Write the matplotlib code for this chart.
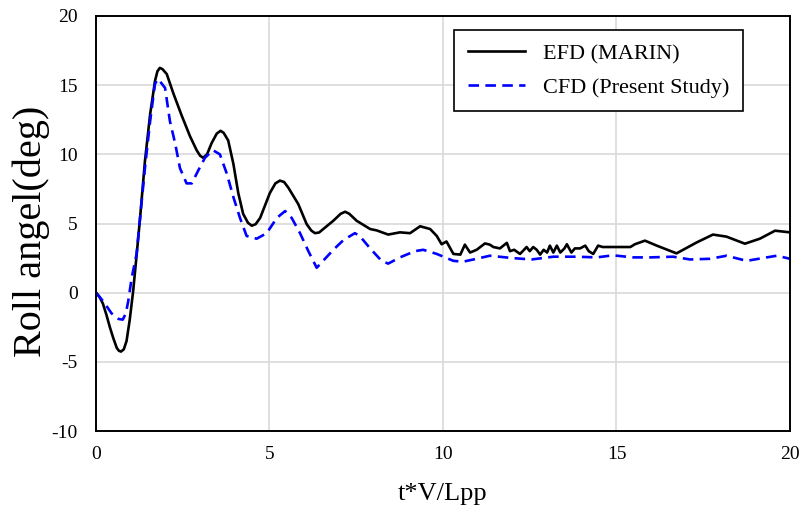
import matplotlib
matplotlib.use("Agg")
import matplotlib.pyplot as plt

plt.rcParams['font.family'] = ['Liberation Serif', 'DejaVu Serif']
plt.rcParams['axes.unicode_minus'] = False

# EFD (MARIN) roll angle
efd_x = [0, 0.1, 0.2, 0.3, 0.4, 0.5, 0.6, 0.66, 0.72, 0.8, 0.88, 0.97, 1.07,
         1.17, 1.27, 1.41, 1.56, 1.70, 1.77, 1.84, 1.92,
         2.04, 2.23, 2.47, 2.71, 2.9, 3.0, 3.09, 3.2, 3.33, 3.48, 3.59, 3.68,
         3.81, 3.96, 4.1, 4.24, 4.38, 4.49, 4.6, 4.73, 5.01, 5.17, 5.30, 5.42,
         5.54, 5.83, 6.07, 6.2, 6.31, 6.43, 6.55, 6.84, 7.05, 7.18, 7.3, 7.51,
         7.9, 8.09, 8.42, 8.76, 9.05, 9.34, 9.63, 9.82, 9.96, 10.1, 10.3, 10.5,
         10.63, 10.78, 10.97, 11.21, 11.35, 11.45, 11.64, 11.84, 11.93, 12.05,
         12.22, 12.41, 12.5, 12.6, 12.7, 12.8, 12.9, 13.0, 13.08, 13.18, 13.28,
         13.38, 13.5, 13.57, 13.7, 13.8, 13.95, 14.1, 14.2, 14.33, 14.47, 14.6,
         14.9, 15.2, 15.4, 15.53, 15.82, 16.16, 16.73, 17.31, 17.78, 18.17,
         18.7, 19.13, 19.57, 20.0]
efd_y = [0, -0.3, -0.8, -1.6, -2.5, -3.3, -4.0, -4.2, -4.26, -4.1, -3.5, -2.0, 0.1,
         2.7, 5.4, 9.5, 12.9, 15.3, 16.0, 16.25, 16.15,
         15.8, 14.4, 12.8, 11.3, 10.3, 9.9, 9.75, 10.0, 10.8, 11.5, 11.7, 11.55,
         11.0, 9.3, 7.2, 5.7, 5.05, 4.84, 4.95, 5.4, 7.2, 7.9, 8.1, 8.0,
         7.6, 6.4, 4.96, 4.5, 4.3, 4.35, 4.6, 5.2, 5.7, 5.85, 5.7, 5.2,
         4.6, 4.5, 4.2, 4.36, 4.3, 4.8, 4.6, 4.1, 3.5, 3.7, 2.8, 2.75,
         3.47, 2.9, 3.1, 3.56, 3.47, 3.3, 3.2, 3.6, 3.0, 3.1,
         2.8, 3.3, 3.0, 3.3, 3.1, 2.75, 3.1, 2.9, 3.4, 2.9, 3.4,
         2.9, 3.2, 3.5, 2.9, 3.2, 3.2, 3.4, 3.0, 2.8, 3.4, 3.3,
         3.3, 3.3, 3.3, 3.5, 3.76, 3.4, 2.84, 3.63, 4.2, 4.05,
         3.54, 3.9, 4.48, 4.36]

# CFD (Present Study) roll angle
cfd_x = [0, 0.2, 0.45, 0.65, 0.77, 0.86, 0.93, 1.03, 1.17, 1.27, 1.41, 1.56,
         1.70, 1.79, 1.99, 2.13, 2.28, 2.42, 2.61, 2.76, 2.94, 3.14, 3.37, 3.57,
         3.77, 3.96, 4.15, 4.34, 4.63, 4.92, 5.21, 5.45, 5.64, 5.88, 6.12, 6.36,
         6.6, 6.84, 7.13, 7.46, 7.6, 7.9, 8.23, 8.42, 8.76, 9.19, 9.43, 9.82,
         10.3, 10.58, 10.97, 11.35, 12.0, 12.55, 13.18, 13.85, 14.43, 14.9,
         15.48, 15.97, 16.63, 17.12, 17.7, 18.17, 18.75, 19.33, 19.62, 20.0]
cfd_y = [0, -0.6, -1.5, -1.9, -1.95, -1.5, -0.6, 1.1, 2.8, 5.4, 9.0, 12.4,
         15.1, 15.45, 14.8, 12.4, 10.8, 9.0, 7.9, 7.9, 8.8, 9.75, 10.3, 10.0,
         8.6, 6.9, 5.4, 4.1, 3.9, 4.3, 5.4, 5.9, 5.4, 4.3, 3.0, 1.8,
         2.45, 3.1, 3.8, 4.3, 4.1, 3.2, 2.3, 2.1, 2.55, 3.0, 3.1, 2.8,
         2.3, 2.24, 2.45, 2.67, 2.5, 2.4, 2.6, 2.6, 2.55, 2.7,
         2.55, 2.55, 2.6, 2.4, 2.45, 2.67, 2.3, 2.55, 2.67, 2.45]

xticks = [0, 5, 10, 15, 20]
yticks = [-10, -5, 0, 5, 10, 15, 20]

fig = plt.figure(figsize=(8.04, 5.09), dpi=100)
ax = fig.add_axes([96 / 804, 1 - 431 / 509, 694 / 804, 415 / 509])

ax.plot(efd_x, efd_y, color='black', lw=1.9, label='EFD (MARIN)')
ax.plot(cfd_x, cfd_y, color='blue', lw=1.9, dashes=(4, 2.4),
        label='CFD (Present Study)')

ax.set_xlim(0, 20)
ax.set_ylim(-10, 20)
ax.set_xticks(xticks)
ax.set_yticks(yticks)
ax.grid(True, color='#d9d9d9', lw=1.2)
ax.set_axisbelow(True)
ax.tick_params(axis='y', length=0, labelsize=14, pad=13)
ax.tick_params(axis='x', length=0, labelsize=14, pad=11)
for s in ax.spines.values():
    s.set_linewidth(1.4)

ax.set_xlabel('t*V/Lpp', fontsize=19, labelpad=14)
ax.set_ylabel('Roll angel(deg)', fontsize=29)
ax.yaxis.set_label_coords(-0.067, 0.48)

leg = ax.legend(loc='upper right', bbox_to_anchor=(0.932, 0.966), fontsize=16,
                fancybox=False, edgecolor='black', framealpha=1,
                handlelength=2.6, borderpad=0.6, labelspacing=0.6,
                borderaxespad=0)
leg.get_frame().set_linewidth(1.2)

fig.savefig('out.png', dpi=100)
